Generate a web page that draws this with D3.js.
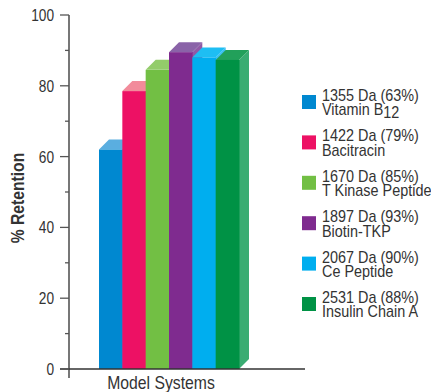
<!DOCTYPE html>
<html>
<head>
<meta charset="utf-8">
<script src="https://cdn.jsdelivr.net/npm/d3@7"></script>
<style>
  body { margin: 0; background: #fff; }
  text { font-family: "Liberation Sans", Arial, sans-serif; fill: #333; }
</style>
</head>
<body>
<div id="chart"></div>
<script>
// data
const names = ["1355 Da (63%)", "1422 Da (79%)", "1670 Da (85%)", "1897 Da (93%)", "2067 Da (90%)", "2531 Da (88%)"];
const subNames = ["Vitamin B", "Bacitracin", "T Kinase Peptide", "Biotin-TKP", "Ce Peptide", "Insulin Chain A"];
const retention = [62, 78.5, 84.5, 89.5, 88, 87.3];
const yTicks = [0, 20, 40, 60, 80, 100];
const frontColors = ["#0088d0", "#ed1164", "#72bf44", "#7f2b8f", "#00aeef", "#009245"];
const topColors = ["#5aaee0", "#f28b9b", "#93cc6a", "#8a63a8", "#1ebef3", "#22a05a"];
const sideColors = ["#3d9bd8", "#f0507e", "#86c75c", "#9159a6", "#3cc0f2", "#3aac72"];

let width = 431, height = 392;
let depth = 10;
let narrow = 0.83; // no condensed font installed, squeeze Liberation Sans instead

var svg = d3.select("#chart")
  .append("svg")
  .attr("width", width)
  .attr("height", height);

var y = d3.scaleLinear().domain([0, 100]).range([369, 15]);
var x = d3.scaleBand().domain(names).range([99, 239]).padding(0);

// bars, left to right so each one hides the side of the one before
names.forEach(function (n, i) {
  let x0 = x(n), x1 = x(n) + x.bandwidth(), yt = y(retention[i]), yb = y(0);
  let g = svg.append("g");
  // side face
  g.append("path")
    .attr("d", `M${x1},${yt} L${x1 + depth},${yt - depth} L${x1 + depth},${yb - depth} L${x1},${yb} Z`)
    .attr("fill", sideColors[i]);
  // top face
  g.append("path")
    .attr("d", `M${x0},${yt} L${x0 + depth},${yt - depth} L${x1 + depth},${yt - depth} L${x1},${yt} Z`)
    .attr("fill", topColors[i]);
  // front
  g.append("rect")
    .attr("x", x0).attr("y", yt)
    .attr("width", x.bandwidth() + 0.5)
    .attr("height", yb - yt)
    .attr("fill", frontColors[i]);
});

// y axis
svg.append("line")
  .attr("x1", 69).attr("x2", 69)
  .attr("y1", 15).attr("y2", 378)
  .attr("stroke", "#555").attr("stroke-width", 1.6);

// x axis
svg.append("line")
  .attr("x1", 60).attr("x2", 305)
  .attr("y1", y(0)).attr("y2", y(0))
  .attr("stroke", "#333").attr("stroke-width", 1.6);

// minor ticks
svg.selectAll(".minor")
  .data(d3.range(10, 100, 20))
  .enter().append("line")
  .attr("x1", 65).attr("x2", 69)
  .attr("y1", d => y(d)).attr("y2", d => y(d))
  .attr("stroke", "#555").attr("stroke-width", 1.3);

// major ticks + labels
svg.selectAll(".major")
  .data(yTicks)
  .enter().append("line")
  .attr("x1", 60).attr("x2", 69)
  .attr("y1", d => y(d)).attr("y2", d => y(d))
  .attr("stroke", "#555").attr("stroke-width", 1.3);

svg.selectAll(".tlabel")
  .data(yTicks)
  .enter().append("text")
  .attr("transform", d => `translate(54,${y(d) + 6}) scale(${narrow},1)`)
  .attr("text-anchor", "end")
  .style("font-size", "16.5px")
  .text(d => d);

// axis titles
svg.append("text")
  .attr("transform", "translate(24,198) rotate(-90) scale(0.87,1)")
  .attr("text-anchor", "middle")
  .style("font-size", "18px")
  .style("font-weight", "bold")
  .text("% Retention");

svg.append("text")
  .attr("transform", "translate(161,389) scale(0.9,1)")
  .attr("text-anchor", "middle")
  .style("font-size", "17.5px")
  .text("Model Systems");

// legend
var legend = svg.selectAll(".leg")
  .data(names)
  .enter().append("g")
  .attr("transform", (d, i) => `translate(302,${95 + i * 40.4})`);

legend.append("rect")
  .attr("width", 14).attr("height", 14)
  .attr("fill", (d, i) => frontColors[i]);

var lt = legend.append("g")
  .attr("transform", "translate(20,0) scale(0.9,1)");

lt.append("text")
  .attr("y", 6)
  .style("font-size", "16px")
  .text(d => d);

var sub = lt.append("text")
  .attr("y", 20.5)
  .style("font-size", "16px")
  .text((d, i) => subNames[i]);

sub.filter((d, i) => i == 0)
  .append("tspan")
  .attr("dy", 3)
  .text("12");
</script>
</body>
</html>
